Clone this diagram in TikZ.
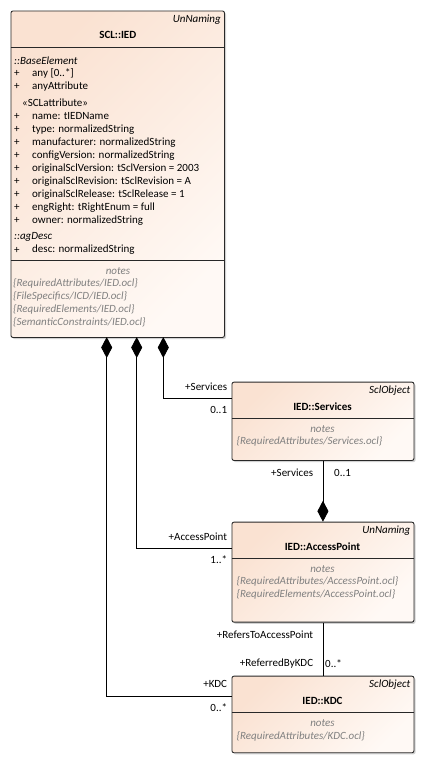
\documentclass[tikz,border=0pt]{standalone}
\usepackage{fontspec}
\setmainfont{Carlito}
\usetikzlibrary{arrows.meta,shadows,calc}
\definecolor{peach}{RGB}{250,226,210}
\definecolor{peachlight}{RGB}{255,249,245}
\definecolor{notegray}{RGB}{128,128,128}
\definecolor{edge}{RGB}{40,40,40}
\newcommand{\fsz}{\fontsize{11}{13}\selectfont}
\tikzset{
  classbox/.style={draw=edge, line width=0.9pt, rounded corners=2pt, anchor=north west,
    top color=peach, bottom color=peachlight, shading angle=45,
    drop shadow={shadow xshift=1.6pt, shadow yshift=-1.6pt, fill=black!30, opacity=0.6},
    inner sep=0pt},
  txt/.style={font=\fsz, inner sep=0pt, text=black},
  lt/.style={txt, anchor=west},
  rt/.style={txt, anchor=east},
  ttl/.style={txt, font=\fsz\bfseries},
  stereo/.style={txt, anchor=east, font=\fsz\itshape},
  note/.style={txt, text=notegray, font=\fsz\itshape},
  sep/.style={draw=edge, line width=0.9pt},
  conn/.style={draw=black, line width=0.9pt},
  compo/.style={conn, -{Diamond[width=11pt,length=21pt]}},
}
\begin{document}
\begin{tikzpicture}[x=1pt,y=-1pt]
\useasboundingbox (0,0) rectangle (424,782);

% ---------- SCL::IED ----------
\node[classbox, minimum width=213.5pt, minimum height=326.5pt] (ied) at (10.5,10.5) {};
\draw[sep] (10.5,47) -- (224,47);
\draw[sep] (10.5,260) -- (224,260);
\node[stereo] (iedst) at (221,20) {UnNaming};
\node[ttl] (iedt) at (117.8,35) {SCL::IED};
\node[lt, font=\fsz\itshape] (be) at (14,61) {::BaseElement};
\foreach \y/\t/\n in {73.5/{any [0..*]}/a1, 86.5/{anyAttribute}/a2,
  116.5/{name: tIEDName}/a3, 129.5/{type: normalizedString}/a4,
  142.5/{manufacturer: normalizedString}/a5, 155.5/{configVersion: normalizedString}/a6,
  168.5/{originalSclVersion: tSclVersion = 2003}/a7, 181.5/{originalSclRevision: tSclRevision = A}/a8,
  194.5/{originalSclRelease: tSclRelease = 1}/a9, 207.5/{engRight: tRightEnum = full}/a10,
  220.5/{owner: normalizedString}/a11, 250/{desc: normalizedString}/a12}{
  \node[lt] (p\n) at (14,\y) {+};
  \node[lt] (\n) at (32,\y) {\t};
}
\node[lt] (scla) at (22,103) {«SCLattribute»};
\node[lt, font=\fsz\itshape] (agd) at (14,236.7) {::agDesc};
\node[note] (iedn) at (118,270.7) {notes};
\node[note, anchor=west] (iedn1) at (13,283.7) {\{RequiredAttributes/IED.ocl\}};
\node[note, anchor=west] (iedn2) at (13,296.7) {\{FileSpecifics/ICD/IED.ocl\}};
\node[note, anchor=west] (iedn3) at (13,309.7) {\{RequiredElements/IED.ocl\}};
\node[note, anchor=west] (iedn4) at (13,322.7) {\{SemanticConstraints/IED.ocl\}};

% ---------- IED::Services ----------
\node[classbox, minimum width=182pt, minimum height=78.3pt] (svc) at (231.5,381.7) {};
\draw[sep] (231.5,418.3) -- (413.5,418.3);
\node[stereo] (svcst) at (410.5,391) {SclObject};
\node[ttl] (svct) at (322.5,406.7) {IED::Services};
\node[note] (svcn) at (322.5,429) {notes};
\node[note, anchor=west] (svcn1) at (236.5,441.7) {\{RequiredAttributes/Services.ocl\}};

% ---------- IED::AccessPoint ----------
\node[classbox, minimum width=182pt, minimum height=100pt] (ap) at (231.5,521.7) {};
\draw[sep] (231.5,558.3) -- (413.5,558.3);
\node[stereo] (apst) at (410.5,531) {UnNaming};
\node[ttl] (apt) at (322.5,546.7) {IED::AccessPoint};
\node[note] (apn) at (322.5,569) {notes};
\node[note, anchor=west] (apn1) at (236.5,581.7) {\{RequiredAttributes/AccessPoint.ocl\}};
\node[note, anchor=west] (apn2) at (236.5,594.7) {\{RequiredElements/AccessPoint.ocl\}};

% ---------- IED::KDC ----------
\node[classbox, minimum width=182pt, minimum height=76.6pt] (kdc) at (231.5,675.7) {};
\draw[sep] (231.5,712.3) -- (413.5,712.3);
\node[stereo] (kdcst) at (410.5,685) {SclObject};
\node[ttl] (kdct) at (322.5,700.7) {IED::KDC};
\node[note] (kdcn) at (322.5,722.7) {notes};
\node[note, anchor=west] (kdcn1) at (236.5,736) {\{RequiredAttributes/KDC.ocl\}};

% ---------- connectors ----------
\coordinate (d1) at (106.7,337);
\coordinate (d2) at (136.7,337);
\coordinate (d3) at (163.3,337);
\coordinate (svcin) at (231.5,398.3);
\coordinate (apin) at (231.5,548.3);
\coordinate (kdcin) at (231.5,696);

\draw[compo] (svcin) -| (d3);
\draw[compo] (apin) -| (d2);
\draw[compo] (kdcin) -| (d1);
\draw[compo] (svc.south) -- (ap.north);
\draw[conn] (ap.south) -- (kdc.north);

% ---------- labels ----------
\node[rt] (l1) at (227.3,386.7) {+Services};
\node[rt] (l2) at (227.3,410) {0..1};
\node[rt] (l3) at (313.3,472.7) {+Services};
\node[lt] (l4) at (334,472.7) {0..1};
\node[rt] (l5) at (227.3,536.7) {+AccessPoint};
\node[rt] (l6) at (227.3,559.3) {1..*};
\node[rt] (l7) at (313.3,635) {+RefersToAccessPoint};
\node[rt] (l8) at (313.3,664) {+ReferredByKDC};
\node[lt] (l9) at (325,664) {0..*};
\node[rt] (l10) at (227.3,684.3) {+KDC};
\node[rt] (l11) at (227.3,707.7) {0..*};
\end{tikzpicture}
\end{document}
